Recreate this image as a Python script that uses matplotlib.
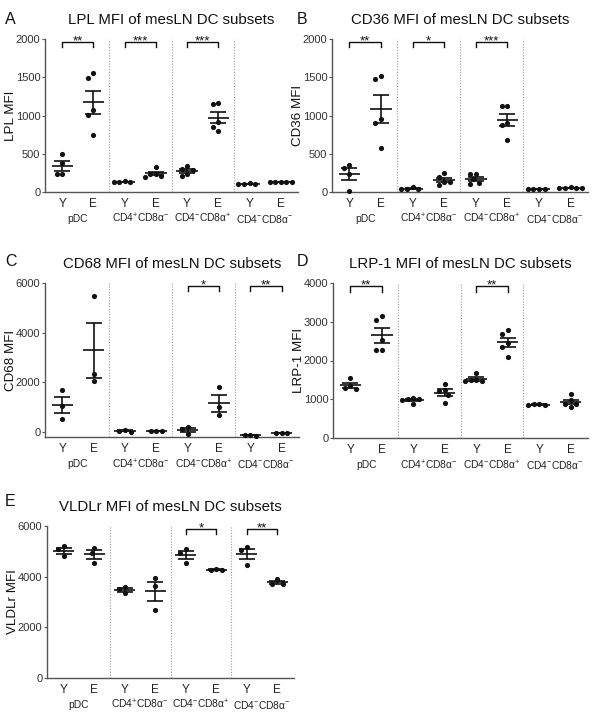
import matplotlib
matplotlib.use('Agg')
import matplotlib.pyplot as plt
import numpy as np

plt.rcParams['font.family'] = ['Liberation Sans', 'DejaVu Sans']
plt.rcParams['mathtext.fontset'] = 'custom'
plt.rcParams['mathtext.rm'] = 'Liberation Sans'
plt.rcParams['mathtext.it'] = 'Liberation Sans:italic'

groups = ['pDC', r'CD4$^{+}$CD8α$^{-}$', r'CD4$^{-}$CD8α$^{+}$', r'CD4$^{-}$CD8α$^{-}$']
ages = ['Y', 'E']

# values per column: pDC Y, pDC E, CD4+CD8- Y, E, CD4-CD8+ Y, E, CD4-CD8- Y, E
lpl = [[500, 380, 230, 240], [1550, 1490, 1070, 1010, 750],
       [125, 130, 135, 140], [330, 200, 215, 240, 230],
       [340, 300, 285, 215, 230], [1145, 1163, 910, 793, 854],
       [108, 110, 112, 110], [128, 132, 130, 126, 134]]
lpl_stars = ['**', '***', '***', '']

cd36 = [[320, 355, 240, 15], [1480, 1510, 957, 896, 570],
        [40, 35, 45, 60], [245, 190, 125, 135, 90],
        [240, 235, 170, 120, 100], [1120, 1120, 900, 880, 680],
        [42, 44, 43, 45], [55, 58, 50, 60, 52]]
cd36_stars = ['**', '*', '***', '']

cd68 = [[1680, 1050, 540], [5490, 2320, 2040],
        [80, 20, 50], [50, 45, 55],
        [210, -60, 130], [1800, 990, 670],
        [-130, -140, -135], [-54, -50, -58]]
cd68_stars = ['', '', '*', '**']

lrp1 = [[1550, 1340, 1270, 1300], [3040, 3140, 2540, 2260, 2260],
        [1000, 880, 970, 1030, 1010], [1400, 1240, 1210, 1100, 910],
        [1690, 1490, 1460, 1480, 1500], [2690, 2780, 2440, 2350, 2090],
        [860, 850, 870, 865], [1130, 980, 880, 790, 880]]
lrp1_stars = ['**', '', '**', '']

vldlr = [[5200, 5080, 4800], [5150, 4950, 4550],
         [3580, 3350, 3510], [3960, 3620, 2700],
         [5080, 4950, 4530], [4300, 4250, 4260],
         [5170, 5040, 4480], [3890, 3730, 3700]]
vldlr_stars = ['', '', '*', '**']

fig = plt.figure(figsize=(6, 7.12), dpi=100)
W, H = 600, 712


def px_axes(l, r, t, b):
    return fig.add_axes([l / W, 1 - b / H, (r - l) / W, (b - t) / H])


def swarm(vals, px_y, d=5.6, px_x=31.5):
    # simple beeswarm: put each point as close to centre as it can go
    order = np.argsort(vals)[::-1]
    placed = []
    offs = np.zeros(len(vals))
    cands = [0]
    for k in range(1, 8):
        cands += [-k * d / 2, k * d / 2]
    for i in order:
        yi = vals[i] * px_y
        for c in cands:
            ok = all((c - xo) ** 2 + (yi - yo) ** 2 >= d ** 2 for xo, yo in placed)
            if ok:
                break
        placed.append((c, yi))
        offs[i] = c / px_x
    return offs


def draw(ax, data, stars, ylim, yticks, ylabel, title):
    pos = ax.get_position()
    axh_px = pos.height * H
    axw_px = pos.width * W
    px_y = axh_px / (ylim[1] - ylim[0])
    for j, vals in enumerate(data):
        vals = np.array(vals, dtype=float)
        xs = j + swarm(vals, px_y)
        ax.scatter(xs, vals, s=14, color='#111111', zorder=3, clip_on=False, lw=0)
        m = vals.mean()
        se = vals.std(ddof=1) / np.sqrt(len(vals))
        ax.hlines(m, j - 0.34, j + 0.34, color='#111111', lw=1.2, zorder=4)
        ax.errorbar(j, m, yerr=se, fmt='none', ecolor='#111111', elinewidth=1.2,
                    capsize=5.5, capthick=1.2, zorder=4)
    for s in [1.5, 3.5, 5.5]:
        ax.axvline(s, color='#9a9a9a', lw=0.8, ls=(0, (1, 1.5)), zorder=1)
    tr = ax.get_xaxis_transform()
    for g, st in enumerate(stars):
        if not st:
            continue
        x0, x1 = 2 * g, 2 * g + 1
        ax.plot([x0, x0, x1, x1], [0.945, 0.978, 0.978, 0.945], transform=tr,
                color='#111111', lw=1, clip_on=False)
        ax.text((x0 + x1) / 2, 0.962, st, transform=tr, ha='center',
                va='baseline', fontsize=9.5, color='#111111')
    ax.set_xlim(-0.55, 7.55)
    ax.set_ylim(*ylim)
    ax.set_yticks(yticks)
    ax.set_xticks(range(8))
    ax.set_xticklabels(ages * 4)
    for g, name in enumerate(groups):
        ax.text(2 * g + 0.5, -0.175, name, transform=tr, ha='center', va='center',
                fontsize=7.4, color='#222222')
    ax.spines['top'].set_visible(False)
    ax.spines['right'].set_visible(False)
    ax.spines['left'].set_bounds(ylim[0], yticks[-1])
    for sp in ['left', 'bottom']:
        ax.spines[sp].set_color('#555555')
        ax.spines[sp].set_linewidth(1)
    ax.tick_params(axis='y', labelsize=8, colors='#555555', labelcolor='#333333',
                   length=2.5, pad=0.8)
    ax.tick_params(axis='x', labelsize=8.5, colors='#555555', labelcolor='#222222',
                   length=0, pad=4)
    ax.set_ylabel(ylabel, fontsize=9.6, color='#111111', va='center')
    ax.yaxis.set_label_coords(-34 / axw_px, 0.5)
    ax.set_title(title, fontsize=10.8, pad=11, color='#111111')


axA = px_axes(45, 298, 39, 192)
draw(axA, lpl, lpl_stars, (0, 2000), [0, 500, 1000, 1500, 2000], 'LPL MFI',
     'LPL MFI of mesLN DC subsets')
axB = px_axes(332, 588, 39, 192)
draw(axB, cd36, cd36_stars, (0, 2000), [0, 500, 1000, 1500, 2000], 'CD36 MFI',
     'CD36 MFI of mesLN DC subsets')
axC = px_axes(45, 299, 283, 437)
draw(axC, cd68, cd68_stars, (-200, 6000), [0, 2000, 4000, 6000], 'CD68 MFI',
     'CD68 MFI of mesLN DC subsets')
axD = px_axes(333, 588, 283, 438)
draw(axD, lrp1, lrp1_stars, (0, 4000), [0, 1000, 2000, 3000, 4000], 'LRP-1 MFI',
     'LRP-1 MFI of mesLN DC subsets')
axE = px_axes(47, 294, 526, 678)
draw(axE, vldlr, vldlr_stars, (0, 6000), [0, 2000, 4000, 6000], 'VLDLr MFI',
     'VLDLr MFI of mesLN DC subsets')

for lab, x, y in [('A', 5, 20), ('B', 297, 20), ('C', 5, 262), ('D', 297, 262), ('E', 5, 502)]:
    fig.text(x / W, 1 - y / H, lab, fontsize=11.5, va='center', ha='left', color='#111111')

fig.savefig('out.png', dpi=100, facecolor='white')
